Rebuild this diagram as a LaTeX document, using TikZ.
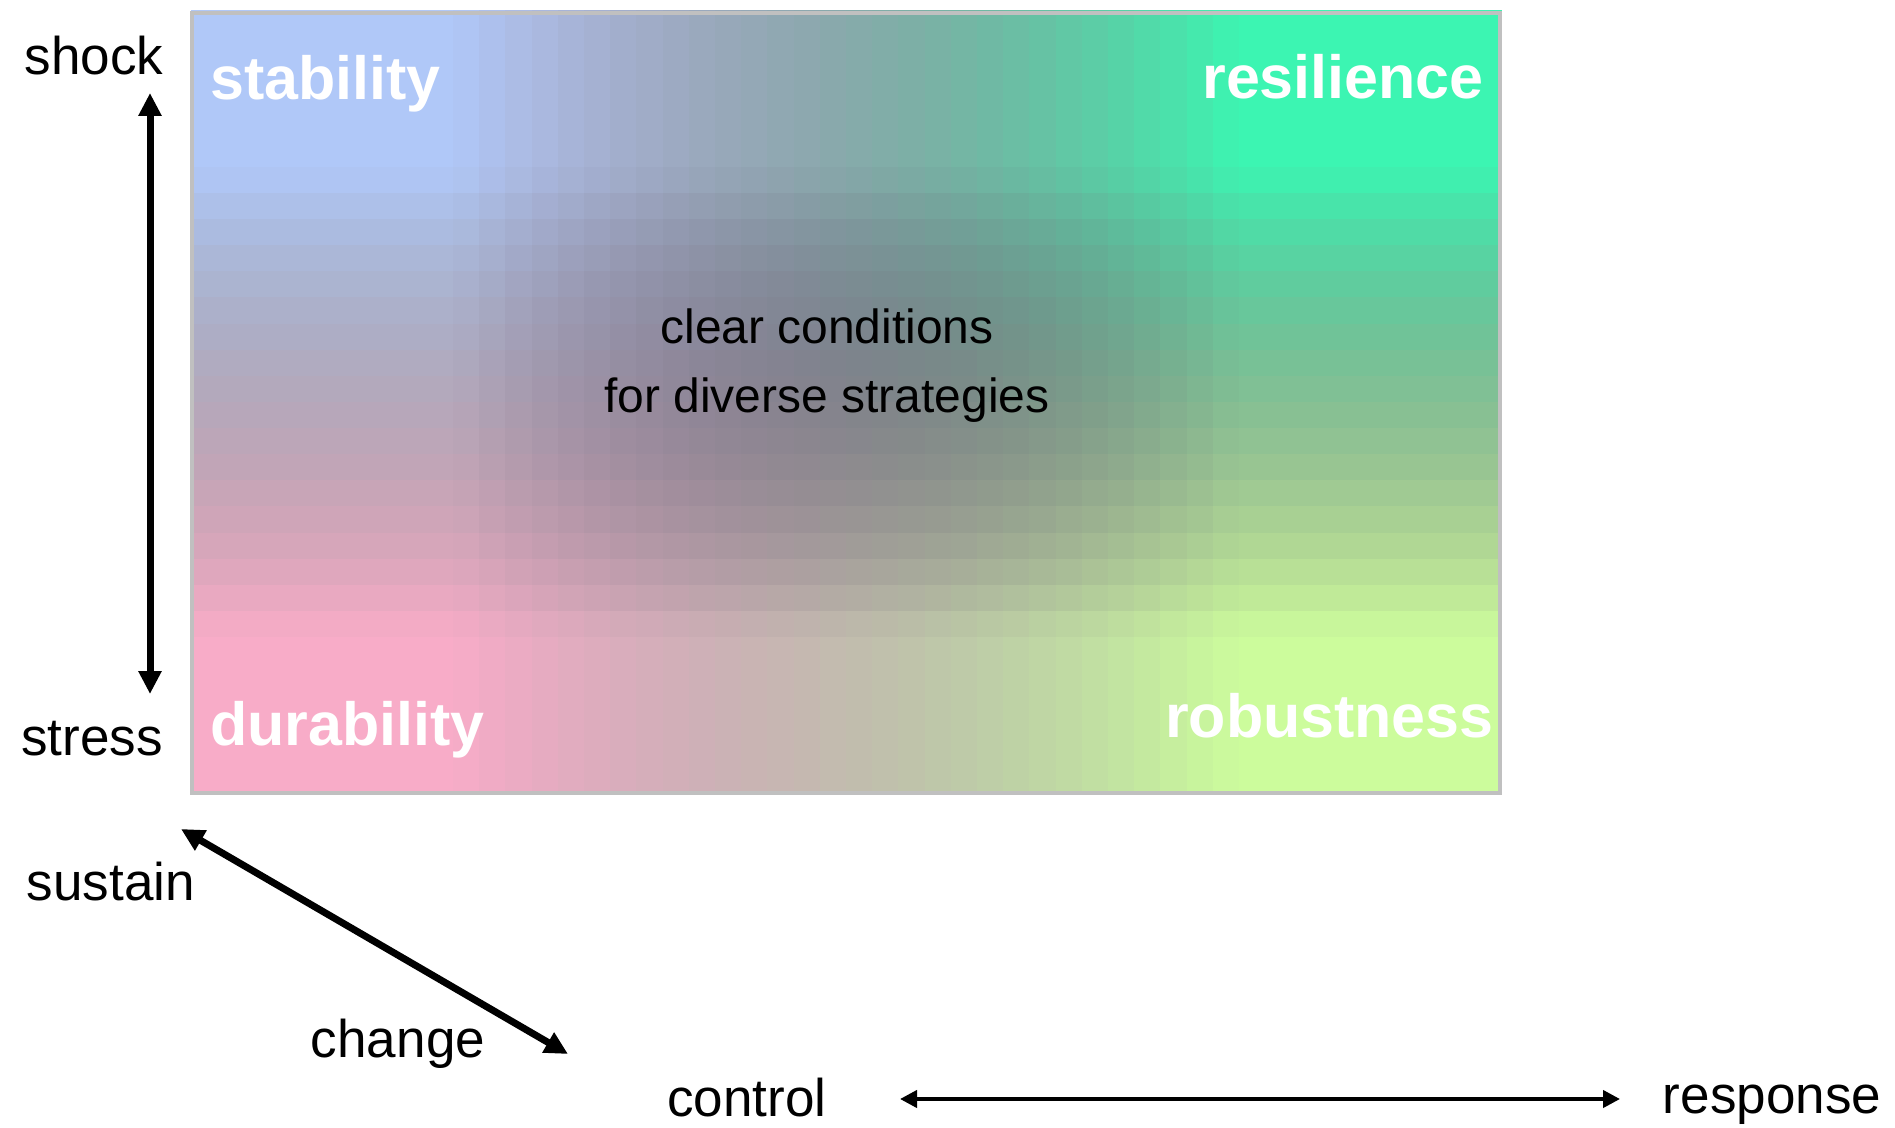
\documentclass[tikz,border=0pt]{standalone}
\usepackage{fontspec}
\setmainfont{Liberation Sans}
\usetikzlibrary{arrows.meta}

\definecolor{framegray}{RGB}{192,192,192}

\tikzset{
  axislabel/.style={font=\fontsize{30.2}{36}\selectfont, inner sep=0pt, anchor=base},
  cornerlabel/.style={font=\fontsize{34.7}{42}\selectfont\bfseries, text=white, inner sep=0pt},
  bigarrow/.style={line width=0.14cm, {Triangle[length=0.46cm,width=0.44cm]}-{Triangle[length=0.46cm,width=0.44cm]}},
  thinarrow/.style={line width=0.08cm, {Triangle[length=0.34cm,width=0.34cm]}-{Triangle[length=0.34cm,width=0.34cm]}}
}

\begin{document}
\begin{tikzpicture}[x=0.02cm, y=0.02cm]

\useasboundingbox (0,0) rectangle (1895,1127);

% Colour field: corner colours blended through a darker centre
\foreach \i in {0,...,49} {
    \pgfmathsetmacro\su{min(1,max(0,((\i+0.5)/50-0.2)/0.6))}
    \pgfmathsetmacro\uA{(1-\su)^2}
    \pgfmathsetmacro\uB{2*\su*(1-\su)}
    \pgfmathsetmacro\uC{\su^2}
    % top, middle and bottom rows for this column
    \pgfmathsetmacro\topR{\uA*176+\uB*152+\uC*60}
    \pgfmathsetmacro\topG{\uA*200+\uB*117.5+\uC*245}
    \pgfmathsetmacro\topB{\uA*248+\uB*129+\uC*178}
    \pgfmathsetmacro\midR{\uA*150+\uB*51+\uC*132}
    \pgfmathsetmacro\midG{\uA*150+\uB*27+\uC*135.5}
    \pgfmathsetmacro\midB{\uA*150+\uB*75+\uC*129}
    \pgfmathsetmacro\botR{\uA*248+\uB*162+\uC*204}
    \pgfmathsetmacro\botG{\uA*172+\uB*164+\uC*252}
    \pgfmathsetmacro\botB{\uA*200+\uB*170+\uC*156}
    \foreach \j in {0,...,29} {
        \pgfmathsetmacro\sv{min(1,max(0,((\j+0.5)/30-0.2)/0.6))}
        \pgfmathsetmacro\vA{(1-\sv)^2}
        \pgfmathsetmacro\vB{2*\sv*(1-\sv)}
        \pgfmathsetmacro\vC{\sv^2}
        \pgfmathsetmacro\colR{(\vA*\topR+\vB*\midR+\vC*\botR)/255}
        \pgfmathsetmacro\colG{(\vA*\topG+\vB*\midG+\vC*\botG)/255}
        \pgfmathsetmacro\colB{(\vA*\topB+\vB*\midB+\vC*\botB)/255}
        \definecolor{cellcol}{rgb}{\colR,\colG,\colB}
        \fill[cellcol] (191+\i*26.2, 1117-\j*26.13) rectangle ++(26.9,-26.8);
    }
}

% Frame round the field
\draw[framegray, line width=0.07cm] (192,334) rectangle (1500,1114);

% Corner words
\node[cornerlabel, anchor=base west] (stability) at (210,1027) {stability};
\node[cornerlabel, anchor=base east] (resilience) at (1484,1028) {resilience};
\node[cornerlabel, anchor=base west] (durability) at (210,382) {durability};
\node[cornerlabel, anchor=base east] (robustness) at (1494,390) {robustness};

% Middle text
\node[font=\fontsize{27.3}{39.3}\selectfont, align=center, inner sep=0pt] (middle) at (827,761)
    {clear conditions\\for diverse strategies};

% Axis words
\node[axislabel] (shock) at (94,1052) {shock};
\node[axislabel] (stress) at (92,372) {stress};
\node[axislabel] (sustain) at (111,227) {sustain};
\node[axislabel] (change) at (398,70) {change};
\node[axislabel] (control) at (747,11) {control};
\node[axislabel] (response) at (1772,14) {response};

% Arrow ends
\coordinate (up) at (150,1034);
\coordinate (down) at (150,433);
\coordinate (keep) at (181,298);
\coordinate (shift) at (568,73);
\coordinate (steer) at (900,28);
\coordinate (react) at (1620,28);

\draw[bigarrow] (up) -- (down);
\draw[bigarrow] (keep) -- (shift);
\draw[thinarrow] (steer) -- (react);

\end{tikzpicture}
\end{document}
